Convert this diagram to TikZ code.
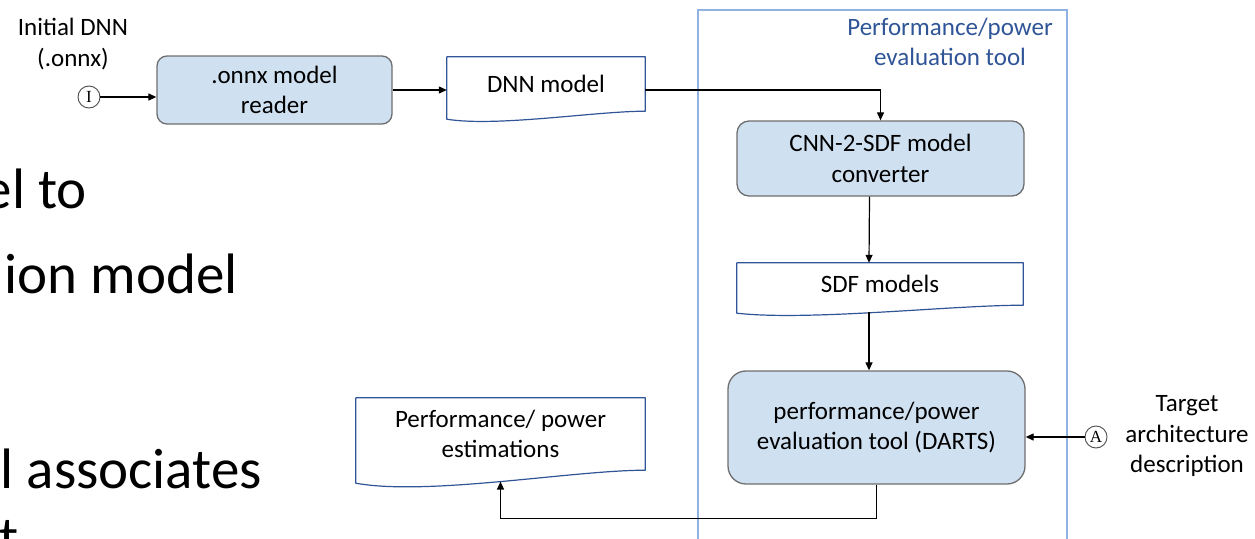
\documentclass[tikz,border=0pt]{standalone}
\usepackage{fontspec}
\setmainfont{Carlito}
\newfontfamily\circfont{Liberation Serif}
\usetikzlibrary{arrows.meta,calc}

\definecolor{procfill}{RGB}{207,224,241}
\definecolor{procline}{RGB}{110,110,110}
\definecolor{docline}{RGB}{47,85,151}
\definecolor{framecol}{RGB}{143,178,226}
\definecolor{titlecol}{RGB}{47,85,151}

% Document outline around a node: #1 node, #2 drop of the left end, #3 control reach
\newcommand\docoutline[3]{%
  \draw[docborder] (#1.north west) -- (#1.north east) -- (#1.south east)
    .. controls ($(#1.south east)+(-#3,0)$) and ($(#1.south west)+(#3,2*#2)$)
    .. ($(#1.south west)+(0,#2)$) node[coordinate,pos=0.5] (#1-wave) {} -- cycle;}

\tikzset{
  txt/.style={font=\fontsize{25}{30.5}\selectfont, align=center, text=black},
  bigtxt/.style={font=\fontsize{57}{68}\selectfont, text=black, inner sep=0pt},
  proc/.style={txt, draw=procline, fill=procfill, line width=1.3pt,
               rounded corners=10pt, inner sep=0pt},
  doc/.style={txt, inner sep=0pt},
  docborder/.style={draw=docline, line width=1.2pt, line join=round},
  conn/.style={line width=1.2pt, -{Triangle[length=8pt,width=7pt]}},
  term/.style={circle, draw=black!70, line width=0.9pt, minimum size=22pt,
               inner sep=0pt, font=\circfont\fontsize{17}{17}\selectfont},
  frame/.style={draw=framecol, line width=2pt}
}

\begin{document}
\begin{tikzpicture}[x=1pt, y=-1pt]
\useasboundingbox (0,0) rectangle (1255,538);

% slide text behind the figure
\node[bigtxt, anchor=base east] (bg1) at (87,208) {el to};
\node[bigtxt, anchor=base east] (bg2) at (238,293) {ion model};
\node[bigtxt, anchor=base east] (bg3) at (262,488) {l associates};
\node[bigtxt, anchor=base west] (bg4) at (-1,556) {t};

% tool frame
\draw[frame] (698,10) rectangle (1067,560);
\node[txt, text=titlecol] (title) at (950,42) {Performance/power\\evaluation tool};

% inputs
\node[txt] (inlabel) at (73,44) {Initial DNN\\(.onnx)};
\node[term] (in) at (89,97) {I};
\node[term] (arch) at (1096,437) {A};
\node[txt] (archlabel) at (1187,436) {Target\\architecture\\description};

% process boxes
\node[proc, minimum width=235pt, minimum height=68pt] (reader) at (274.5,90) {.onnx model\\reader};
\node[proc, minimum width=287pt, minimum height=75pt, rounded corners=12pt] (cnn) at (880.5,158.5) {CNN-2-SDF model\\converter};
\node[proc, minimum width=297pt, minimum height=113pt, rounded corners=18pt] (darts) at (876.5,427.5) {performance/power\\evaluation tool (DARTS)};

% documents
\node[doc, minimum width=198pt, minimum height=54pt] (dnn) at (546,84) {DNN model};
\docoutline{dnn}{8}{49.5}
\node[doc, minimum width=286pt, minimum height=42pt] (sdf) at (880,284) {SDF models};
\docoutline{sdf}{8}{71.5}
\node[doc, minimum width=289pt, minimum height=72pt] (est) at (500.5,434) {Performance/ power\\estimations};
\docoutline{est}{13}{72}

% connectors
\draw[conn] (in) -- (in -| reader.west);
\draw[conn] (reader.east) -- (reader.east -| dnn.west);
\draw[conn] ([yshift=-6pt]dnn.east) -| (cnn.north);
\draw[conn] ([xshift=-11pt]cnn.south) -- ([xshift=-11pt]sdf.north);
\coordinate (sdfout) at ([xshift=-11pt]sdf-wave);
\draw[conn] (sdfout) -- (sdfout |- darts.north);
\draw[conn] (arch) -- (arch -| darts.east);
\draw[conn] (darts.south) -- ++(0,34) -| (est-wave);
\end{tikzpicture}
\end{document}
